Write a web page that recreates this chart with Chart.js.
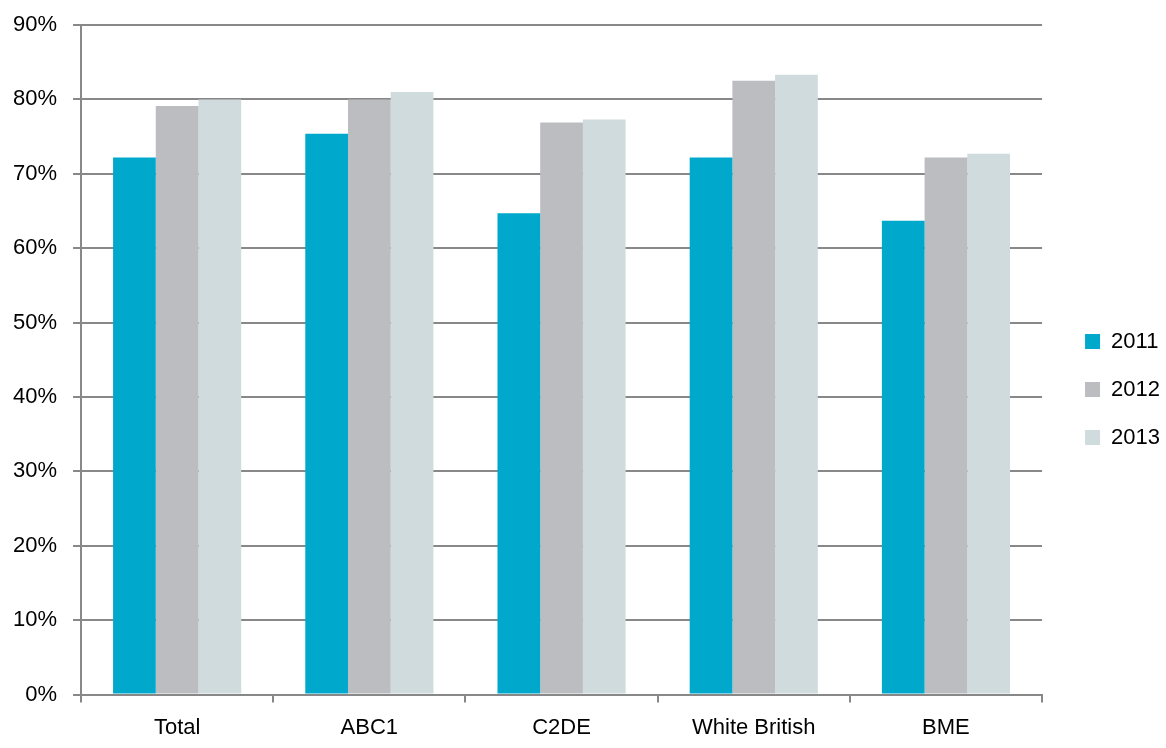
<!DOCTYPE html>
<html>
<head>
<meta charset="utf-8">
<script src="https://cdn.jsdelivr.net/npm/chart.js@4.4.1/dist/chart.umd.min.js"></script>
<style>
  html, body { margin: 0; padding: 0; background: #ffffff; }
  #wrap { width: 1166px; height: 748px; position: relative; }
</style>
</head>
<body>
<div id="wrap"><canvas id="c" width="1166" height="748"></canvas></div>
<script>
const categories = ["Total", "ABC1", "C2DE", "White British", "BME"];
const seriesNames = ["2011", "2012", "2013"];
const values2011 = [72.2, 75.4, 64.7, 72.2, 63.7];
const values2012 = [79.1, 80.0, 76.9, 82.5, 72.2];
const values2013 = [80.0, 81.0, 77.3, 83.3, 72.7];
const yTicks = [0, 10, 20, 30, 40, 50, 60, 70, 80, 90];
const colors = ["#00A9CC", "#BCBDC0", "#CFDBDD"];

const seriesValues = [values2011, values2012, values2013];
const FONT = "'Liberation Sans', Arial, sans-serif";

// nudge the legend block right/down after layout so it sits like the reference
const legendNudge = {
  id: "legendNudge",
  afterLayout(chart) {
    const lg = chart.legend;
    if (!lg) return;
    lg.left += 17; lg.right += 17;
    lg.top += 10; lg.bottom += 10;
  }
};

new Chart(document.getElementById("c"), {
  type: "bar",
  data: {
    labels: categories,
    datasets: seriesNames.map((n, i) => ({
      label: n,
      data: seriesValues[i],
      backgroundColor: colors[i],
      borderWidth: 0,
      categoryPercentage: 3 / 4.5,
      barPercentage: 1.0
    }))
  },
  options: {
    responsive: false,
    animation: false,
    layout: { padding: { left: -3, right: 13, top: 6, bottom: -5 } },
    plugins: {
      legend: {
        position: "right",
        labels: {
          boxWidth: 15,
          boxHeight: 15,
          padding: 26,
          color: "#000",
          font: { family: FONT, size: 22 }
        }
      },
      tooltip: { enabled: false }
    },
    scales: {
      x: {
        offset: true,
        border: { display: true, color: "#888888", width: 2 },
        grid: {
          offset: true,
          drawOnChartArea: false,
          drawTicks: true,
          tickLength: 8,
          color: "#888888",
          lineWidth: 2
        },
        ticks: {
          color: "#000",
          font: { family: FONT, size: 22 },
          padding: 12,
          maxRotation: 0
        }
      },
      y: {
        min: 0,
        max: 90,
        afterBuildTicks: (axis) => { axis.ticks = yTicks.map(v => ({ value: v })); },
        border: { display: true, color: "#888888", width: 2 },
        grid: {
          color: "#888888",
          lineWidth: 2,
          drawTicks: true,
          tickLength: 8
        },
        ticks: {
          color: "#000",
          font: { family: FONT, size: 22, lineHeight: 0.82 },
          padding: 16,
          callback: (v) => v + "%"
        }
      }
    }
  },
  plugins: [legendNudge]
});
</script>
</body>
</html>
